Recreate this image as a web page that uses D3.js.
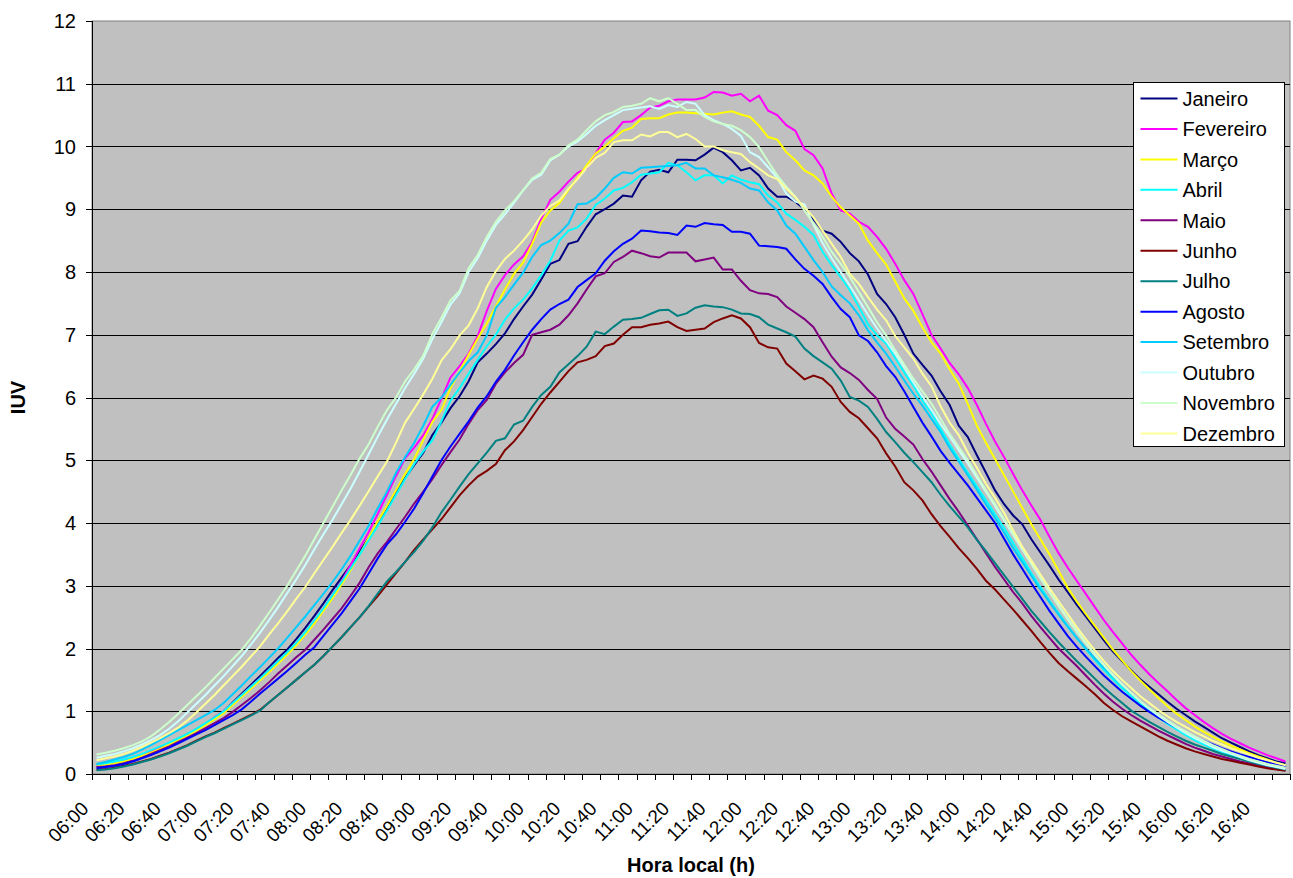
<!DOCTYPE html>
<html>
<head>
<meta charset="utf-8">
<script src="https://cdn.jsdelivr.net/npm/d3@7"></script>
<style>
  body { margin: 0; background: #fff; }
  text { font-family: "Liberation Sans", Arial, sans-serif; }
</style>
</head>
<body>
<svg id="chart"></svg>
<script>
// readings every 5 min, 06:00 .. 16:55
var months = ['Janeiro', 'Fevereiro', 'Março', 'Abril', 'Maio', 'Junho', 'Julho',
  'Agosto', 'Setembro', 'Outubro', 'Novembro', 'Dezembro'];
var colors = ['#000080', '#FF00FF', '#FFFF00', '#00FFFF', '#800080', '#800000', '#008080',
  '#0000FF', '#00CCFF', '#CCFFFF', '#CCFFCC', '#FFFF99'];
var xLabels = ['06:00', '06:20', '06:40', '07:00', '07:20', '07:40', '08:00', '08:20', '08:40',
  '09:00', '09:20', '09:40', '10:00', '10:20', '10:40', '11:00', '11:20', '11:40', '12:00',
  '12:20', '12:40', '13:00', '13:20', '13:40', '14:00', '14:20', '14:40', '15:00', '15:20',
  '15:40', '16:00', '16:20', '16:40'];
var yTicks = [0, 1, 2, 3, 4, 5, 6, 7, 8, 9, 10, 11, 12];

var janeiro = [0.13,0.15,0.18,0.21,0.25,0.30,0.36,0.42,0.49,0.56,0.63,0.71,
  0.80,0.90,1.00,1.14,1.28,1.42,1.56,1.70,1.85,1.98,2.15,2.33,
  2.52,2.72,2.93,3.13,3.33,3.55,3.77,4.02,4.25,4.50,4.72,4.92,
  5.12,5.40,5.60,5.83,6.02,6.26,6.56,6.70,6.85,7.02,7.25,7.45,
  7.64,7.88,8.13,8.19,8.45,8.49,8.72,8.92,9.00,9.09,9.22,9.20,
  9.46,9.60,9.63,9.59,9.79,9.79,9.78,9.87,9.98,9.91,9.78,9.62,
  9.66,9.54,9.33,9.20,9.20,9.12,9.00,8.84,8.66,8.61,8.48,8.30,
  8.17,7.96,7.65,7.49,7.28,7.00,6.70,6.52,6.35,6.10,5.88,5.55,
  5.37,5.08,4.80,4.52,4.30,4.12,3.98,3.74,3.53,3.32,3.10,2.90,
  2.70,2.51,2.32,2.13,1.95,1.80,1.65,1.51,1.39,1.27,1.15,1.04,
  0.94,0.84,0.75,0.66,0.57,0.50,0.43,0.36,0.30,0.25,0.20,0.17];
var fevereiro = [0.13,0.15,0.18,0.21,0.25,0.30,0.36,0.42,0.49,0.56,0.63,0.71,
  0.80,0.90,1.00,1.13,1.26,1.39,1.52,1.66,1.80,1.92,2.06,2.24,
  2.44,2.64,2.85,3.07,3.33,3.60,3.86,4.15,4.45,4.75,5.03,5.20,
  5.40,5.66,5.98,6.32,6.50,6.70,6.98,7.38,7.73,7.95,8.12,8.25,
  8.48,8.85,9.15,9.28,9.44,9.58,9.65,9.89,10.11,10.22,10.39,10.40,
  10.50,10.62,10.65,10.72,10.75,10.75,10.75,10.78,10.87,10.86,10.81,10.84,
  10.72,10.81,10.57,10.50,10.34,10.25,9.96,9.86,9.65,9.25,8.98,8.93,
  8.80,8.72,8.56,8.37,8.13,7.87,7.65,7.33,7.00,6.78,6.55,6.37,
  6.15,5.88,5.58,5.30,5.05,4.78,4.52,4.28,4.05,3.78,3.52,3.29,
  3.08,2.87,2.66,2.45,2.26,2.08,1.90,1.74,1.59,1.45,1.32,1.18,
  1.05,0.94,0.83,0.73,0.64,0.56,0.49,0.42,0.36,0.30,0.25,0.20];
var marco = [0.13,0.15,0.17,0.20,0.24,0.29,0.34,0.40,0.47,0.54,0.61,0.69,
  0.78,0.87,0.97,1.10,1.23,1.36,1.49,1.62,1.76,1.90,2.05,2.22,
  2.40,2.60,2.80,3.02,3.25,3.50,3.77,4.03,4.27,4.52,4.78,5.02,
  5.32,5.61,5.80,6.15,6.42,6.68,6.94,7.18,7.45,7.72,7.97,8.15,
  8.45,8.79,8.98,9.10,9.31,9.50,9.70,9.89,10.00,10.13,10.25,10.30,
  10.44,10.45,10.45,10.51,10.54,10.54,10.53,10.52,10.51,10.54,10.56,10.51,
  10.47,10.33,10.15,10.11,9.91,9.78,9.62,9.54,9.41,9.20,9.03,8.90,
  8.77,8.50,8.30,8.12,7.85,7.58,7.38,7.12,6.88,6.70,6.45,6.22,
  5.90,5.55,5.28,5.02,4.76,4.50,4.24,3.98,3.74,3.50,3.24,2.97,
  2.75,2.55,2.36,2.17,1.98,1.81,1.64,1.49,1.35,1.21,1.08,0.96,
  0.86,0.76,0.67,0.59,0.52,0.45,0.39,0.33,0.28,0.23,0.18,0.14];
var abril = [0.15,0.17,0.20,0.23,0.27,0.32,0.38,0.44,0.50,0.57,0.64,0.72,
  0.81,0.90,1.00,1.13,1.26,1.39,1.52,1.66,1.80,1.94,2.09,2.26,
  2.45,2.64,2.85,3.06,3.28,3.50,3.73,3.96,4.20,4.45,4.70,4.94,
  5.14,5.32,5.62,5.95,6.15,6.38,6.60,6.82,7.00,7.24,7.42,7.56,
  7.74,7.95,8.18,8.50,8.66,8.71,8.85,9.07,9.17,9.30,9.34,9.43,
  9.55,9.57,9.59,9.74,9.70,9.59,9.46,9.54,9.54,9.41,9.54,9.47,
  9.43,9.40,9.22,9.11,8.93,8.83,8.72,8.59,8.32,8.11,7.92,7.71,
  7.44,7.17,6.99,6.86,6.63,6.40,6.19,5.95,5.75,5.50,5.25,5.02,
  4.80,4.58,4.36,4.14,3.92,3.68,3.44,3.20,2.98,2.76,2.56,2.36,
  2.17,1.99,1.82,1.66,1.51,1.37,1.24,1.12,1.00,0.90,0.80,0.71,
  0.62,0.54,0.47,0.41,0.35,0.30,0.25,0.21,0.17,0.13,0.10,0.07];
var maio = [0.11,0.12,0.14,0.17,0.21,0.26,0.32,0.38,0.44,0.51,0.58,0.65,
  0.73,0.81,0.89,0.99,1.10,1.21,1.33,1.46,1.60,1.73,1.86,1.98,
  2.14,2.30,2.47,2.64,2.84,3.05,3.30,3.52,3.70,3.90,4.10,4.31,
  4.50,4.70,4.92,5.13,5.33,5.58,5.80,5.96,6.22,6.40,6.55,6.68,
  7.00,7.04,7.08,7.16,7.31,7.50,7.72,7.93,7.98,8.16,8.24,8.34,
  8.30,8.25,8.23,8.31,8.31,8.31,8.17,8.20,8.23,8.04,8.04,7.86,
  7.71,7.66,7.65,7.60,7.45,7.35,7.25,7.12,6.88,6.65,6.48,6.39,
  6.28,6.12,5.98,5.68,5.50,5.38,5.25,5.02,4.82,4.60,4.38,4.18,
  3.96,3.74,3.52,3.30,3.10,2.90,2.72,2.52,2.34,2.17,2.00,1.86,
  1.72,1.57,1.42,1.28,1.15,1.04,0.94,0.85,0.77,0.69,0.62,0.55,
  0.48,0.42,0.37,0.32,0.28,0.24,0.20,0.17,0.14,0.11,0.08,0.06];
var junho = [0.07,0.08,0.10,0.13,0.16,0.20,0.24,0.29,0.34,0.40,0.46,0.53,
  0.60,0.66,0.73,0.80,0.87,0.94,1.02,1.14,1.26,1.38,1.50,1.62,
  1.74,1.88,2.03,2.18,2.34,2.50,2.67,2.84,3.02,3.20,3.38,3.57,
  3.74,3.90,4.06,4.25,4.44,4.60,4.74,4.83,4.94,5.16,5.30,5.48,
  5.69,5.90,6.08,6.25,6.42,6.56,6.60,6.66,6.82,6.86,7.00,7.12,
  7.12,7.16,7.18,7.21,7.12,7.06,7.08,7.10,7.20,7.26,7.31,7.26,
  7.12,6.87,6.80,6.78,6.54,6.42,6.29,6.35,6.30,6.17,5.93,5.77,
  5.67,5.51,5.35,5.11,4.90,4.65,4.52,4.36,4.14,3.95,3.78,3.60,
  3.44,3.27,3.08,2.94,2.78,2.62,2.45,2.28,2.10,1.93,1.77,1.64,
  1.52,1.40,1.27,1.13,1.02,0.92,0.84,0.76,0.68,0.60,0.53,0.47,
  0.41,0.36,0.32,0.28,0.24,0.21,0.18,0.15,0.12,0.09,0.07,0.05];
var julho = [0.06,0.07,0.09,0.12,0.15,0.19,0.23,0.28,0.33,0.39,0.45,0.52,
  0.59,0.65,0.72,0.79,0.86,0.93,1.01,1.14,1.26,1.38,1.50,1.62,
  1.74,1.88,2.03,2.18,2.34,2.50,2.68,2.88,3.07,3.22,3.38,3.54,
  3.72,3.93,4.17,4.37,4.58,4.78,4.95,5.12,5.31,5.35,5.57,5.63,
  5.85,6.04,6.17,6.40,6.53,6.66,6.81,7.05,7.01,7.13,7.24,7.25,
  7.27,7.33,7.39,7.40,7.30,7.34,7.43,7.47,7.45,7.44,7.40,7.34,
  7.33,7.28,7.16,7.10,7.04,6.97,6.78,6.66,6.56,6.46,6.27,6.01,
  5.95,5.85,5.66,5.45,5.29,5.12,4.97,4.81,4.65,4.45,4.27,4.10,
  3.93,3.73,3.55,3.36,3.17,2.98,2.79,2.60,2.43,2.26,2.10,1.95,
  1.80,1.66,1.52,1.38,1.25,1.13,1.01,0.92,0.83,0.75,0.67,0.60,
  0.53,0.47,0.42,0.37,0.32,0.28,0.24,0.20,0.16,0.13,0.10,0.07];
var agosto = [0.09,0.11,0.13,0.16,0.20,0.25,0.30,0.36,0.42,0.49,0.56,0.63,
  0.70,0.78,0.86,0.94,1.03,1.15,1.28,1.40,1.52,1.64,1.77,1.90,
  2.02,2.20,2.38,2.56,2.76,2.96,3.20,3.44,3.66,3.82,4.02,4.23,
  4.48,4.74,5.00,5.22,5.42,5.62,5.84,6.02,6.25,6.44,6.67,6.88,
  7.08,7.25,7.40,7.49,7.56,7.76,7.87,7.98,8.18,8.33,8.45,8.53,
  8.66,8.65,8.63,8.62,8.59,8.74,8.72,8.78,8.76,8.75,8.64,8.64,
  8.61,8.42,8.41,8.40,8.37,8.20,8.05,7.94,7.81,7.60,7.41,7.28,
  6.99,6.90,6.72,6.50,6.33,6.10,5.85,5.60,5.38,5.15,4.96,4.78,
  4.60,4.40,4.20,4.00,3.75,3.50,3.27,3.04,2.82,2.60,2.40,2.20,
  2.03,1.87,1.72,1.57,1.44,1.31,1.20,1.09,0.99,0.90,0.82,0.74,
  0.66,0.59,0.53,0.47,0.41,0.36,0.31,0.27,0.23,0.19,0.15,0.12];
var setembro = [0.16,0.19,0.23,0.27,0.32,0.39,0.46,0.54,0.62,0.70,0.78,0.86,
  0.94,1.02,1.13,1.27,1.41,1.56,1.70,1.85,2.00,2.17,2.34,2.51,
  2.69,2.87,3.06,3.26,3.48,3.72,3.96,4.24,4.50,4.80,5.05,5.28,
  5.55,5.85,6.00,6.20,6.40,6.58,6.72,6.99,7.43,7.60,7.80,7.99,
  8.24,8.43,8.50,8.62,8.77,9.08,9.09,9.18,9.33,9.50,9.59,9.57,
  9.66,9.67,9.68,9.69,9.70,9.74,9.65,9.65,9.54,9.51,9.47,9.42,
  9.33,9.30,9.11,8.98,8.74,8.61,8.40,8.19,8.00,7.77,7.63,7.50,
  7.31,7.07,6.88,6.70,6.49,6.27,6.06,5.87,5.66,5.45,5.20,4.98,
  4.76,4.53,4.30,4.08,3.85,3.60,3.38,3.16,2.94,2.74,2.54,2.35,
  2.17,2.00,1.84,1.69,1.55,1.41,1.28,1.16,1.05,0.94,0.84,0.75,
  0.66,0.58,0.51,0.44,0.38,0.32,0.27,0.23,0.19,0.15,0.12,0.09];
var outubro = [0.26,0.29,0.32,0.36,0.41,0.47,0.54,0.62,0.72,0.84,0.98,1.12,
  1.26,1.41,1.56,1.72,1.88,2.06,2.25,2.45,2.66,2.88,3.10,3.33,
  3.58,3.82,4.05,4.30,4.55,4.82,5.10,5.38,5.65,5.90,6.15,6.38,
  6.62,6.93,7.20,7.48,7.66,8.00,8.22,8.50,8.75,8.92,9.10,9.30,
  9.47,9.55,9.78,9.87,10.00,10.08,10.20,10.33,10.42,10.50,10.58,10.60,
  10.62,10.64,10.60,10.66,10.63,10.71,10.68,10.50,10.42,10.36,10.28,10.17,
  9.91,9.83,9.67,9.50,9.25,9.12,9.08,8.75,8.46,8.22,8.00,7.78,
  7.55,7.32,7.10,6.90,6.70,6.48,6.24,6.02,5.80,5.58,5.38,5.16,
  4.95,4.72,4.50,4.27,4.04,3.81,3.58,3.35,3.12,2.90,2.69,2.48,
  2.28,2.09,1.91,1.74,1.58,1.43,1.29,1.16,1.04,0.93,0.83,0.74,
  0.65,0.57,0.50,0.43,0.37,0.32,0.27,0.22,0.18,0.14,0.11,0.08];
var novembro = [0.31,0.34,0.37,0.41,0.46,0.52,0.60,0.71,0.83,0.96,1.10,1.24,
  1.38,1.53,1.68,1.83,1.98,2.16,2.36,2.57,2.78,3.00,3.24,3.48,
  3.74,4.00,4.26,4.52,4.77,5.03,5.26,5.54,5.80,6.00,6.26,6.45,
  6.67,7.01,7.27,7.55,7.70,8.06,8.27,8.56,8.80,8.98,9.13,9.30,
  9.49,9.58,9.80,9.87,10.02,10.11,10.26,10.40,10.50,10.55,10.63,10.65,
  10.68,10.77,10.72,10.77,10.68,10.58,10.58,10.47,10.40,10.36,10.33,10.26,
  10.15,9.99,9.76,9.54,9.36,9.20,8.98,8.77,8.56,8.32,8.13,7.92,
  7.68,7.44,7.20,6.99,6.75,6.52,6.30,6.10,5.90,5.66,5.42,5.21,
  5.00,4.76,4.52,4.30,4.06,3.83,3.60,3.36,3.13,2.90,2.68,2.47,
  2.27,2.08,1.90,1.73,1.57,1.42,1.29,1.16,1.05,0.95,0.85,0.76,
  0.68,0.60,0.53,0.46,0.40,0.34,0.29,0.24,0.20,0.16,0.13,0.10];
var dezembro = [0.22,0.25,0.28,0.32,0.37,0.43,0.50,0.57,0.65,0.74,0.85,0.98,
  1.12,1.26,1.41,1.56,1.71,1.87,2.03,2.22,2.40,2.59,2.79,2.98,
  3.20,3.41,3.62,3.84,4.05,4.28,4.51,4.75,4.98,5.28,5.60,5.82,
  6.05,6.30,6.59,6.77,6.99,7.15,7.42,7.76,8.01,8.21,8.34,8.50,
  8.68,8.90,9.05,9.14,9.33,9.48,9.66,9.82,9.90,10.07,10.10,10.10,
  10.19,10.16,10.23,10.23,10.15,10.20,10.12,10.00,10.00,9.94,9.91,9.88,
  9.75,9.65,9.54,9.48,9.33,9.19,9.03,8.87,8.66,8.45,8.24,7.97,
  7.81,7.60,7.40,7.23,6.98,6.80,6.62,6.38,6.18,5.86,5.60,5.40,
  5.12,4.88,4.62,4.40,4.16,3.88,3.62,3.40,3.18,2.96,2.75,2.55,
  2.34,2.15,1.97,1.80,1.64,1.50,1.37,1.24,1.13,1.02,0.92,0.83,
  0.75,0.67,0.60,0.53,0.47,0.41,0.36,0.31,0.26,0.22,0.18,0.14];

var seriesValues = [janeiro, fevereiro, marco, abril, maio, junho, julho,
  agosto, setembro, outubro, novembro, dezembro];

// category labels hh:mm for each 5 min reading
var times = janeiro.map(function(d, i) {
  var m = 360 + 5 * i;
  return d3.format('02d')(Math.floor(m / 60)) + ':' + d3.format('02d')(m % 60);
});

var svg = d3.select('#chart').attr('width', 1293).attr('height', 878);

var plot = { left: 92, right: 1290, top: 21, bottom: 774 };

var x = d3.scalePoint()
  .domain(times)
  .range([plot.left, plot.right])
  .padding(0.5);
var step = x.step();

var y = d3.scaleLinear()
  .domain([0, 12])
  .range([plot.bottom, plot.top]);

svg.append('rect')
  .attr('x', plot.left).attr('y', plot.top)
  .attr('width', plot.right - plot.left)
  .attr('height', plot.bottom - plot.top)
  .attr('fill', '#C0C0C0')
  .attr('stroke', '#808080')
  .attr('stroke-width', 1);

// horizontal grid
svg.append('g').selectAll('line')
  .data(yTicks.filter(function(d) { return d > 0 && d < 12; }))
  .enter().append('line')
  .attr('x1', plot.left).attr('x2', plot.right)
  .attr('y1', function(d) { return Math.round(y(d)) + 0.5; })
  .attr('y2', function(d) { return Math.round(y(d)) + 0.5; })
  .attr('stroke', '#000')
  .attr('stroke-width', 1);

// lines
var line = d3.line()
  .x(function(d, i) { return x(times[i]); })
  .y(function(d) { return y(d); });

svg.append('g').selectAll('path')
  .data(seriesValues)
  .enter().append('path')
  .attr('d', line)
  .attr('fill', 'none')
  .attr('stroke', function(d, i) { return colors[i]; })
  .attr('stroke-width', 2);

// y axis
var yAxis = svg.append('g');
yAxis.append('line')
  .attr('x1', plot.left + 0.5).attr('x2', plot.left + 0.5)
  .attr('y1', plot.top).attr('y2', plot.bottom + 0.5)
  .attr('stroke', '#000');
yAxis.selectAll('.tick')
  .data(yTicks).enter()
  .append('line')
  .attr('x1', plot.left - 6).attr('x2', plot.left)
  .attr('y1', function(d) { return Math.round(y(d)) + 0.5; })
  .attr('y2', function(d) { return Math.round(y(d)) + 0.5; })
  .attr('stroke', '#000');
yAxis.selectAll('text')
  .data(yTicks).enter()
  .append('text')
  .attr('x', 76)
  .attr('y', function(d) { return y(d); })
  .attr('dy', '0.36em')
  .attr('text-anchor', 'end')
  .attr('font-size', 20)
  .text(function(d) { return d; });

// x axis
var xAxis = svg.append('g');
xAxis.append('line')
  .attr('x1', plot.left).attr('x2', plot.right)
  .attr('y1', plot.bottom + 0.5).attr('y2', plot.bottom + 0.5)
  .attr('stroke', '#000');
var tickPos = times.filter(function(d, i) { return i % 2 === 0; })
  .map(function(d) { return x(d) - step / 2; })
  .concat([x(times[times.length - 1]) + step / 2]);
xAxis.selectAll('.xt')
  .data(tickPos).enter()
  .append('line')
  .attr('x1', function(d) { return Math.round(d) + 0.5; })
  .attr('x2', function(d) { return Math.round(d) + 0.5; })
  .attr('y1', plot.bottom).attr('y2', plot.bottom + 6)
  .attr('stroke', '#000');
xAxis.selectAll('text')
  .data(xLabels).enter()
  .append('text')
  .attr('transform', function(d) {
    return 'translate(' + (x(d) - step / 2 - 7) + ',' + (plot.bottom + 31) + ') rotate(-45)';
  })
  .attr('text-anchor', 'end')
  .attr('dy', '0.35em')
  .attr('font-size', 19)
  .text(function(d) { return d; });

// axis titles
svg.append('text')
  .attr('x', 691).attr('y', 872)
  .attr('text-anchor', 'middle')
  .attr('font-size', 20)
  .attr('font-weight', 'bold')
  .text('Hora local (h)');

svg.append('text')
  .attr('transform', 'translate(25,' + y(6) + ') rotate(-90)')
  .attr('text-anchor', 'middle')
  .attr('font-size', 20)
  .attr('font-weight', 'bold')
  .text('IUV');

// legend
var legend = svg.append('g').attr('transform', 'translate(1133.5,82.5)');
legend.append('rect')
  .attr('width', 151).attr('height', 364)
  .attr('fill', '#fff')
  .attr('stroke', '#000');
var item = legend.selectAll('.item')
  .data(months).enter()
  .append('g')
  .attr('transform', function(d, i) { return 'translate(0,' + (16 + i * 30.45) + ')'; });
item.append('line')
  .attr('x1', 7).attr('x2', 44)
  .attr('stroke', function(d, i) { return colors[i]; })
  .attr('stroke-width', 2);
item.append('text')
  .attr('x', 49)
  .attr('dy', '0.36em')
  .attr('font-size', 20)
  .text(function(d) { return d; });
</script>
</body>
</html>
